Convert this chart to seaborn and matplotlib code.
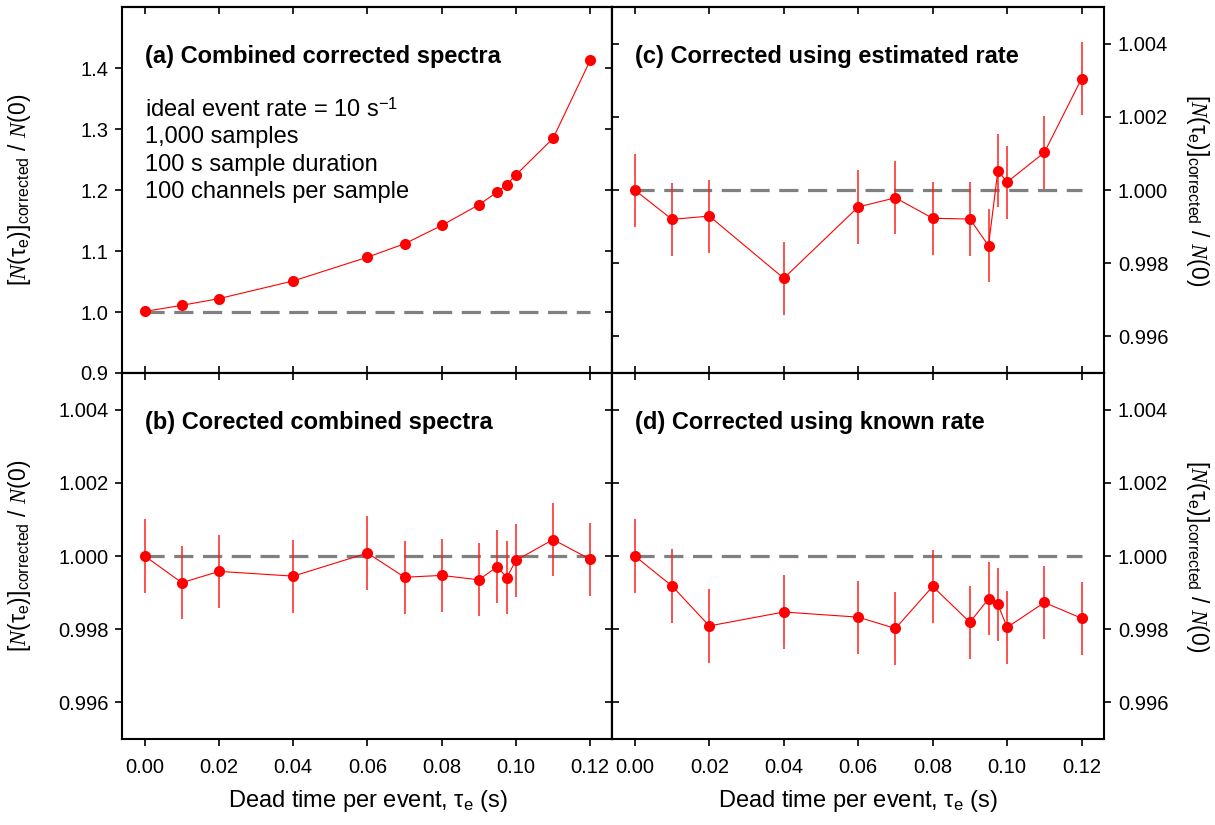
import numpy as np
import pandas as pd
import matplotlib
matplotlib.use("Agg")
import matplotlib.pyplot as plt
import seaborn as sns

# ---------------- data ----------------
tau = [0.00, 0.01, 0.02, 0.04, 0.06, 0.07, 0.08, 0.09, 0.095, 0.0975, 0.10, 0.11, 0.12]

ratio_a = [1.001, 1.011, 1.022, 1.051, 1.090, 1.112, 1.142, 1.176, 1.197, 1.209, 1.225, 1.285, 1.413]
ratio_b = [1.00000, 0.99927, 0.99958, 0.99945, 1.00008, 0.99942, 0.99947, 0.99935, 0.99971,
           0.99941, 0.99988, 1.00045, 0.99991]
ratio_c = [1.00000, 0.99920, 0.99929, 0.99759, 0.99954, 0.99979, 0.99923, 0.99921, 0.99848,
           1.00053, 1.00022, 1.00103, 1.00305]
ratio_d = [1.00000, 0.99918, 0.99809, 0.99847, 0.99833, 0.99802, 0.99917, 0.99819, 0.99883,
           0.99868, 0.99805, 0.99873, 0.99830]
err_small = [0.001] * 13

titles = ["(a) Combined corrected spectra", "(b) Corected combined spectra",
          "(c) Corrected using estimated rate", "(d) Corrected using known rate"]
info_lines = [r"ideal event rate = 10 s$^{\mathregular{-1}}$", "1,000 samples",
              "100 s sample duration", "100 channels per sample"]

xticks = [0.00, 0.02, 0.04, 0.06, 0.08, 0.10, 0.12]
yticks_a = [0.9, 1.0, 1.1, 1.2, 1.3, 1.4]
yticks_s = [0.996, 0.998, 1.000, 1.002, 1.004]

ylabel = r"$[\mathit{N}(\mathrm{\tau}_{\mathrm{e}})]_{\mathrm{corrected}}$ / $\mathit{N}$(0)"
xlabel = r"Dead time per event, $\mathrm{\tau}_{\mathrm{e}}$ (s)"

# ---------------- style ----------------
sns.set_theme(style="ticks")
plt.rcParams["font.family"] = ["Liberation Sans", "DejaVu Sans"]
plt.rcParams["mathtext.fontset"] = "custom"
plt.rcParams["mathtext.rm"] = "Liberation Sans"
plt.rcParams["mathtext.it"] = "Liberation Serif:italic"
plt.rcParams["mathtext.bf"] = "Liberation Sans:bold"
plt.rcParams["axes.linewidth"] = 1.5
plt.rcParams["axes.edgecolor"] = "black"
for k in ["text.color", "axes.labelcolor", "xtick.color", "ytick.color",
          "xtick.labelcolor", "ytick.labelcolor"]:
    plt.rcParams[k] = "black"

TICK_FS = 14.5
TITLE_FS = 17
LAB_FS = 16.5
XLAB_FS = 17

fig = plt.figure(figsize=(12.15, 8.25), dpi=100)

L, M, R = 0.1008, 0.5041, 0.9086
B, MY, T = 0.1042, 0.5479, 0.9912

ax_a = fig.add_axes([L, MY, M - L, T - MY])
ax_c = fig.add_axes([M, MY, R - M, T - MY])
ax_b = fig.add_axes([L, B, M - L, MY - B])
ax_d = fig.add_axes([M, B, R - M, MY - B])

panels = [
    (ax_a, ratio_a, None, yticks_a, (0.9, 1.5), "left", "%.1f", False, titles[0]),
    (ax_b, ratio_b, err_small, yticks_s, (0.995, 1.005), "left", "%.3f", True, titles[1]),
    (ax_c, ratio_c, err_small, yticks_s, (0.995, 1.005), "right", "%.3f", False, titles[2]),
    (ax_d, ratio_d, err_small, yticks_s, (0.995, 1.005), "right", "%.3f", True, titles[3]),
]

tick_kw = dict(length=5, width=1.2, colors="black", labelsize=TICK_FS)

for ax, vals, err, yt, ylim, yside, fmt, bottom_row, title in panels:
    # reference line
    ax.plot([0.0, 0.12], [1.0, 1.0], color="#808080", lw=2.3, dashes=(6, 3), zorder=1)
    df = pd.DataFrame({"tau": tau, "ratio": vals})
    if err is not None:
        ax.errorbar(tau, vals, yerr=err, fmt="none", ecolor="#ff2020", elinewidth=1.1,
                    capsize=0, zorder=2)
    sns.lineplot(data=df, x="tau", y="ratio", ax=ax, color="#ff0000", lw=0.8,
                 marker="o", markersize=8, markeredgewidth=0, zorder=3,
                 estimator=None, sort=False)
    ax.set_xlim(-0.006, 0.126)
    ax.set_ylim(*ylim)
    ax.set_xticks(xticks)
    ax.set_yticks(yt)
    ax.yaxis.set_major_formatter(matplotlib.ticker.FormatStrFormatter(fmt))
    ax.xaxis.set_major_formatter(matplotlib.ticker.FormatStrFormatter("%.2f"))
    for s in ax.spines.values():
        s.set_visible(True)
        s.set_linewidth(1.5)

    # x axis: bottom row outward labelled ticks, top row inward unlabelled
    if bottom_row:
        ax.tick_params(axis="x", direction="out", pad=9, **tick_kw)
        ax.set_xlabel(xlabel, fontsize=XLAB_FS)
        ax.xaxis.set_label_coords(0.5, -0.135)
    else:
        ax.tick_params(axis="x", direction="in", labelbottom=False, **tick_kw)
        ax.set_xlabel("")
    # top inward ticks
    sx = ax.secondary_xaxis("top")
    sx.set_xticks(xticks)
    sx.tick_params(axis="x", direction="in", labeltop=False, **tick_kw)

    # y axis
    if yside == "left":
        ax.tick_params(axis="y", direction="out", pad=5, **tick_kw)
        ax.set_ylabel(ylabel, fontsize=LAB_FS)
        ax.yaxis.set_label_coords(-0.183, 0.5)
        sy = ax.secondary_yaxis("right")
        sy.set_yticks(yt)
        sy.tick_params(axis="y", direction="in", labelright=False, **tick_kw)
    else:
        ax.yaxis.tick_right()
        ax.yaxis.set_label_position("right")
        ax.tick_params(axis="y", direction="out", pad=5, **tick_kw)
        ax.set_ylabel(ylabel, fontsize=LAB_FS, rotation=270, va="center")
        ax.yaxis.set_label_coords(1.19, 0.5)
        sy = ax.secondary_yaxis("left")
        sy.set_yticks(yt)
        sy.tick_params(axis="y", direction="in", labelleft=False, **tick_kw)

    trans = matplotlib.transforms.blended_transform_factory(ax.transData, ax.transAxes)
    ax.text(0.0, 0.848, title, transform=trans, fontsize=TITLE_FS, fontweight="bold",
            va="baseline", ha="left")

# info text in panel (a)
trans_a = matplotlib.transforms.blended_transform_factory(ax_a.transData, ax_a.transAxes)
for line, yb in zip(info_lines, [0.701, 0.628, 0.553, 0.479]):
    ax_a.text(0.0, yb, line, transform=trans_a, fontsize=17, va="baseline", ha="left")

fig.savefig("out.png", dpi=100)
